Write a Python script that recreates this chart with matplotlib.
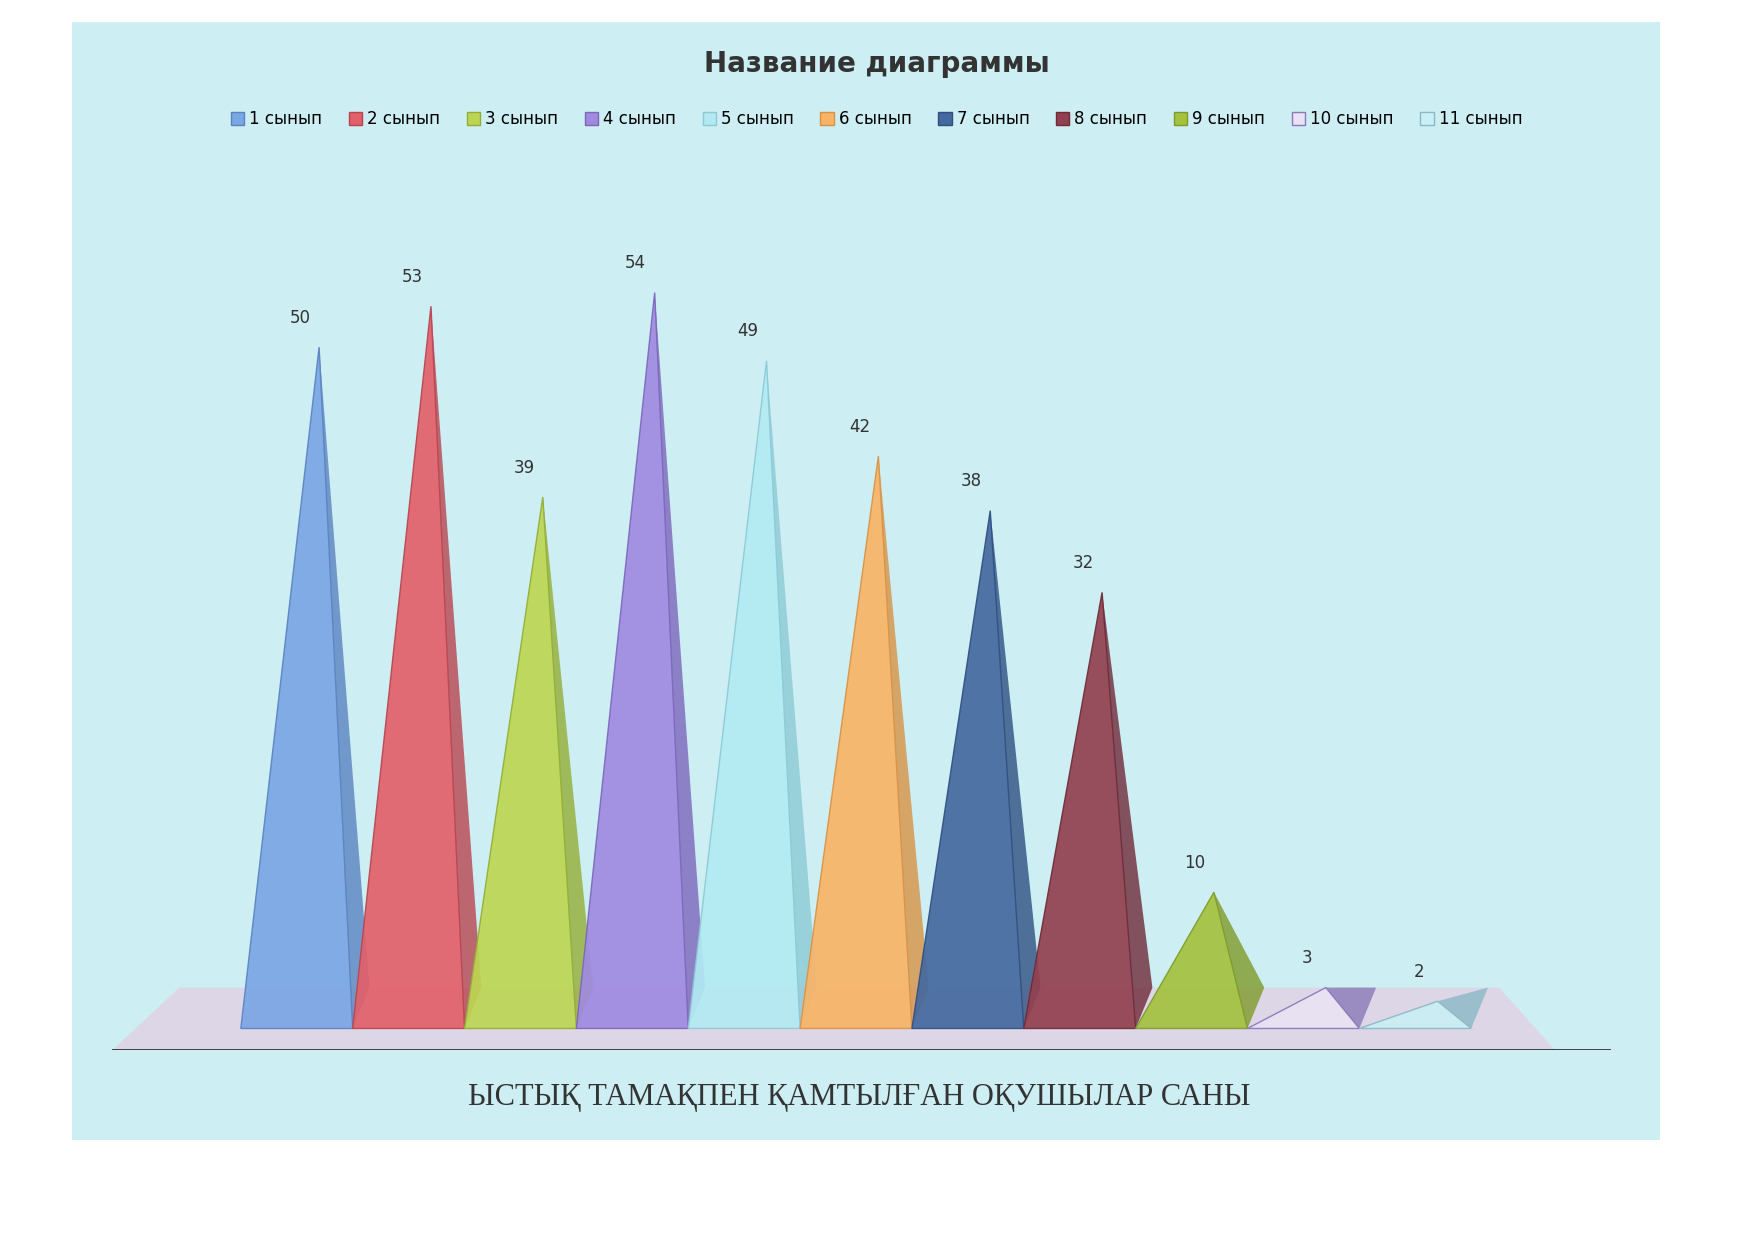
import matplotlib.pyplot as plt
from matplotlib.patches import Patch, Rectangle, Polygon

classes = ['1 сынып', '2 сынып', '3 сынып', '4 сынып', '5 сынып', '6 сынып',
           '7 сынып', '8 сынып', '9 сынып', '10 сынып', '11 сынып']
values = [50, 53, 39, 54, 49, 42, 38, 32, 10, 3, 2]
colors = ['#7aa6e4', '#e2606a', '#bcd653', '#a08ae0', '#b2eaf3', '#f8b466',
          '#44699f', '#92404f', '#a4c23e', '#e8e2f2', '#cbeff6']
sides = ['#5a83c0', '#b8444f', '#93ad35', '#7c66bb', '#8ccad6', '#d89244',
         '#2f4f80', '#6e2a38', '#7f9a2a', '#8a78b8', '#8ab8c6']

fig = plt.figure(figsize=(17.53, 12.4), dpi=100)
fig.patches.append(Rectangle((0.041, 0.081), 0.906, 0.901, transform=fig.transFigure,
                             facecolor='#cdeef2', edgecolor='none', zorder=-5))

ax = fig.add_axes([0.064, 0.153, 0.855, 0.677])
ax.set_zorder(2)
ax.set_xlim(-1.7, 11.7)
ax.set_ylim(-1.6, 60)
ax.axis('off')

# floor
ax.add_patch(Polygon([(-1.7, -1.6), (11.2, -1.6), (10.7, 3.0), (-1.1, 3.0)],
                     facecolor='#ddd6e6', edgecolor='none', zorder=1))
ax.plot([-1.7, 11.7], [-1.6, -1.6], color='#333333', lw=2, zorder=2)

for i, (v, c, s) in enumerate(zip(values, colors, sides)):
    ax.add_patch(Polygon([(i + 0.15, v), (i + 0.45, 0), (i + 0.6, 3.0)],
                         facecolor=s, edgecolor='none', alpha=0.8, zorder=2.5))
    ax.add_patch(Polygon([(i - 0.55, 0), (i + 0.45, 0), (i + 0.15, v)],
                         facecolor=c, edgecolor=s, lw=1, alpha=0.92, zorder=3))
    ax.text(i - 0.02, v + 1.5, str(v), ha='center', va='bottom', fontsize=12,
            color='#333333', zorder=4)

fig.text(0.5, 0.948, 'Название диаграммы', ha='center', va='center',
         fontsize=20, fontweight='bold', color='#333333')
handles = [Patch(facecolor=c, edgecolor=s) for c, s in zip(colors, sides)]
fig.legend(handles, classes, loc='center', bbox_to_anchor=(0.5, 0.904), ncol=11,
           frameon=False, fontsize=12, handlelength=0.8, handleheight=0.8,
           columnspacing=1.6, handletextpad=0.3)
fig.text(0.49, 0.115, 'ЫСТЫҚ ТАМАҚПЕН ҚАМТЫЛҒАН ОҚУШЫЛАР САНЫ', ha='center',
         va='center', fontsize=22, family='Liberation Serif', color='#333333')

fig.savefig('out.png', facecolor='white')
